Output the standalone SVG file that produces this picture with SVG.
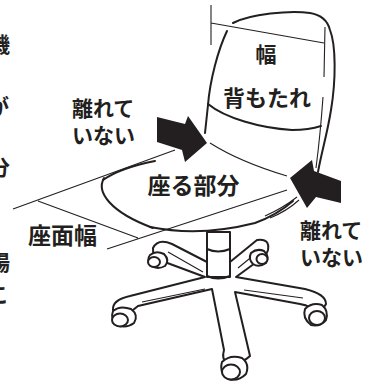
<svg xmlns="http://www.w3.org/2000/svg" width="380" height="383" viewBox="0 0 380 383">
<style>
.t{font-family:"Noto Sans CJK JP","Noto Sans",sans-serif;font-weight:700;fill:#231f20}
.thin{fill:none;stroke:#231f20;stroke-width:1.1}
.ln{fill:none;stroke:#231f20;stroke-width:2;stroke-linecap:round;stroke-linejoin:round}
.sh{fill:#fff;stroke:#231f20;stroke-width:2;stroke-linejoin:round}
.arr{fill:#231f20}
</style>
<rect width="380" height="383" fill="#fff"/>
<g id="cut-text">
<text class="t" x="-11" y="51.5" font-size="21">機</text>
<text class="t" x="-12" y="114" font-size="21">が</text>
<text class="t" x="-11" y="175" font-size="21">分</text>
<text class="t" x="-11" y="270" font-size="21">場</text>
<text class="t" x="-12" y="302" font-size="21">こ</text>
</g>
<g id="backrest">
<path class="ln" d="M233,23 C250,14 290,10 310,13 C322,15 328,22 330,30 C336,45 336,80 331,110 C327,135 322,150 318,172"/>
<path class="thin" d="M323,97 C321,125 319,145 316,168"/>
<path class="ln" d="M227,31 C218,50 210,80 208,105 L205,133"/>
<path class="ln" d="M208,104 C225,118 260,128 292,130 C305,130 315,128 321,126"/>
<path class="thin" d="M210,143 Q240,162 287,176"/>
</g>
<g id="dimension-back">
<path class="thin" d="M211,5 L211,45 M325,27 L324,77 M211,23 L324,43"/>
</g>
<g id="seat">
<path class="ln" d="M103,180 Q120,168 155,161"/>
<path class="ln" d="M104,178 C96,192 110,212 153,228"/>
<path class="ln" d="M150,227 Q200,237 255,223 Q277,215 293,201"/>
<path class="thin" d="M265,216 Q283,208 297,197 M270,218 Q287,211 299,200"/>
</g>
<g id="dimension-seat">
<path class="thin" d="M13,209 L175,150 M107,249 L287,190 M38,201 L138,238"/>
</g>
<g id="base">
<path class="sh" d="M207,262 L172,244 Q158,238 153,248 Q152,258 162,261 L205,277 L130,296 Q112,300 113,310 Q117,318 128,314 L138,306 L212,289 L224,350 Q221,360 228,363 Q242,364 250,356 L235,292 L300,304 Q312,306 314,312 Q322,312 326,304 Q326,294 305,289 L236,277 L262,258 Q266,256 268,250 Q270,238 257,240 L230,262 Z"/>
<path class="thin" d="M168,252 L203,272 M142,302 L205,289 M244,290 L303,298 M238,268 L260,250"/>
<rect class="sh" x="207" y="232" width="23" height="45"/>
<path class="ln" d="M207,249 Q218,254 230,249 M207,276 Q218,281 230,276"/>
<path class="sh" d="M150,255 Q156,250 164,254 Q170,260 165,266 Q158,270 151,266 Q146,260 150,255 Z"/>
<ellipse class="sh" cx="154" cy="262" rx="6" ry="5"/>
<path class="sh" d="M113,311 Q120,305 131,309 Q139,315 134,323 Q126,329 117,325 Q110,319 113,311 Z"/>
<ellipse class="sh" cx="120" cy="320" rx="8" ry="6.5"/>
<path class="sh" d="M222,362 Q230,354 242,358 Q250,364 246,374 Q238,382 228,379 Q219,373 222,362 Z"/>
<ellipse class="sh" cx="231" cy="372" rx="9" ry="7.5"/>
<path class="sh" d="M305,309 Q312,302 322,305 Q329,311 326,320 Q320,327 311,325 Q302,318 305,309 Z"/>
<ellipse class="sh" cx="317" cy="318" rx="8" ry="7"/>
<path class="sh" d="M251,253 Q257,248 264,251 Q270,257 266,263 Q259,268 253,264 Q248,259 251,253 Z"/>
<ellipse class="sh" cx="262" cy="259" rx="5.5" ry="5"/>
</g>
<g id="arrows">
<polygon class="arr" points="157,117 185,124 188,116 207,143 185,162 182,150 157,142"/>
<polygon class="arr" points="290,178 312,160 314,171 341,181 341,203 316,197 307,208"/>
</g>
<g id="labels">
<text class="t" x="266" y="61.5" font-size="21" text-anchor="middle">幅</text>
<text class="t" x="267" y="105.5" font-size="22" text-anchor="middle">背もたれ</text>
<text class="t" x="72" y="116" font-size="21">離れて</text>
<text class="t" x="72" y="143" font-size="21">いない</text>
<text class="t" x="193.5" y="193.5" font-size="23" text-anchor="middle">座る部分</text>
<text class="t" x="62.5" y="243.5" font-size="23" text-anchor="middle">座面幅</text>
<text class="t" x="300" y="238" font-size="21">離れて</text>
<text class="t" x="300" y="265" font-size="21">いない</text>
</g>
</svg>
